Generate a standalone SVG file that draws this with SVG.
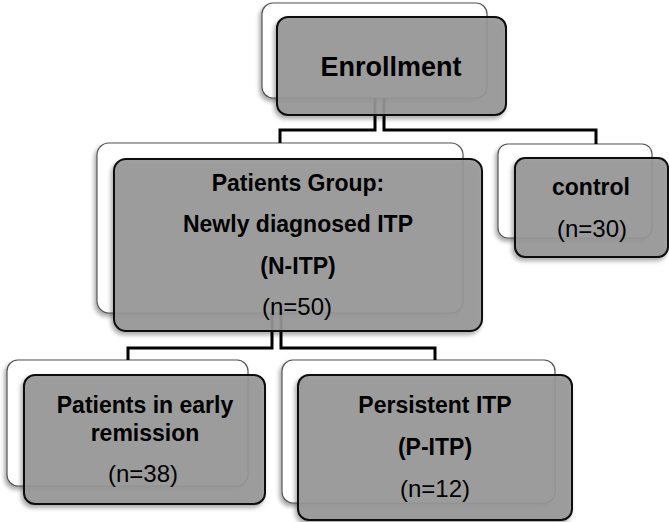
<svg xmlns="http://www.w3.org/2000/svg" width="669" height="522" viewBox="0 0 669 522">
<defs>
<filter id="sh" x="-10%" y="-10%" width="120%" height="130%">
<feDropShadow dx="-2" dy="3" stdDeviation="2" flood-color="#000" flood-opacity="0.35"/>
</filter>
<style>
.back{fill:#ffffff;stroke:#555;stroke-width:1.2;filter:url(#sh)}
.front{fill:#989898;fill-opacity:0.9;stroke:#111;stroke-width:2;filter:url(#sh)}
.con{fill:none;stroke:#000;stroke-width:3}
.t{font-family:"Liberation Sans",Arial,sans-serif;font-size:24px;fill:#000;text-anchor:middle}
.b{font-weight:bold;font-size:23px}
</style>
</defs>
<rect width="669" height="522" fill="#fff"/>
<g id="backs">
<rect class="back" x="262" y="3" width="225" height="95" rx="11"/>
<rect class="back" x="97" y="143" width="366" height="170" rx="12"/>
<rect class="back" x="498" y="144" width="154" height="94" rx="10"/>
<rect class="back" x="7" y="360" width="241" height="126" rx="11"/>
<rect class="back" x="282" y="360" width="273" height="143" rx="11"/>
</g>
<g id="connectors">
<path class="con" d="M375,98 V130 H280 V143"/>
<path class="con" d="M384,98 V130 H596 V144"/>
<path class="con" d="M272,313 V348 H128 V360"/>
<path class="con" d="M281,313 V348 H435 V360"/>
</g>
<g id="enrollment">
<rect class="front" x="277" y="17" width="229" height="98" rx="11"/>
<text class="t b" x="391" y="76" style="font-size:27px">Enrollment</text>
</g>
<g id="patients-group">
<rect class="front" x="114" y="159" width="368" height="172" rx="12"/>
<text class="t b" x="298" y="191">Patients Group:</text>
<text class="t b" x="298" y="232">Newly diagnosed ITP</text>
<text class="t b" x="298" y="274">(N-ITP)</text>
<text class="t" x="297" y="315">(n=50)</text>
</g>
<g id="control">
<rect class="front" x="515" y="158" width="153" height="99" rx="10"/>
<text class="t b" x="591" y="195">control</text>
<text class="t" x="592" y="237">(n=30)</text>
</g>
<g id="early-remission">
<rect class="front" x="24" y="375" width="241" height="129" rx="11"/>
<text class="t b" x="145" y="413">Patients in early</text>
<text class="t b" x="145" y="441">remission</text>
<text class="t" x="143" y="482">(n=38)</text>
</g>
<g id="persistent">
<rect class="front" x="298" y="375" width="274" height="145" rx="11"/>
<text class="t b" x="435" y="413">Persistent ITP</text>
<text class="t b" x="435" y="455">(P-ITP)</text>
<text class="t" x="435" y="497">(n=12)</text>
</g>
</svg>
